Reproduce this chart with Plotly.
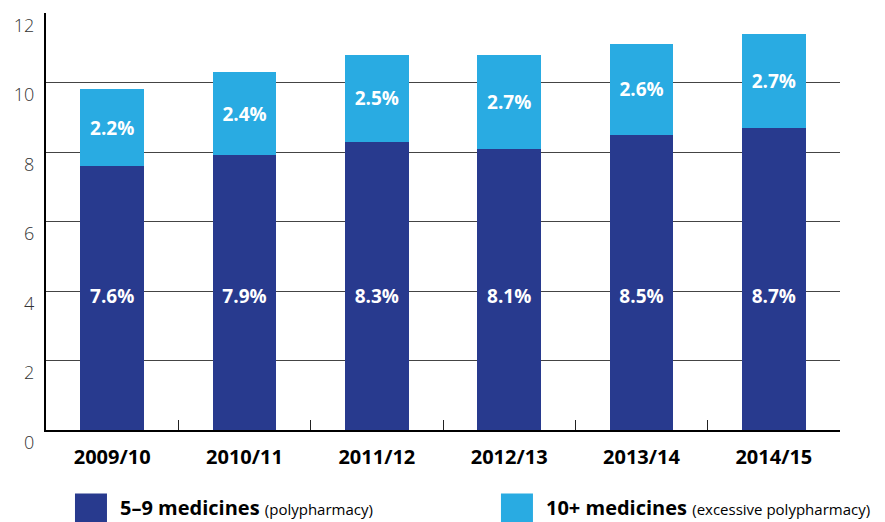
import plotly.graph_objects as go

categories = ["2009/10", "2010/11", "2011/12", "2012/13", "2013/14", "2014/15"]
poly_5_9 = [7.6, 7.9, 8.3, 8.1, 8.5, 8.7]
poly_10plus = [2.2, 2.4, 2.5, 2.7, 2.6, 2.7]
y_ticks = [0, 2, 4, 6, 8, 10, 12]

DARK = "#283a8e"
LIGHT = "#29abe2"
FONT = "Open Sans"

fig = go.Figure()
fig.add_trace(go.Bar(
    x=categories, y=poly_5_9, marker=dict(color=DARK, line=dict(width=0)),
    name="5–9 medicines", showlegend=False, hoverinfo="skip",
))
fig.add_trace(go.Bar(
    x=categories, y=poly_10plus, marker=dict(color=LIGHT, line=dict(width=0)),
    text=[f"{v:.1f}%" for v in poly_10plus], textposition="inside",
    insidetextanchor="middle",
    textfont=dict(family=FONT, size=19, color="white", weight="bold"),
    name="10+ medicines", showlegend=False, hoverinfo="skip",
))
label_y = min(poly_5_9) / 2
fig.add_trace(go.Scatter(
    x=categories, y=[label_y] * len(categories), mode="text",
    text=[f"{v:.1f}%" for v in poly_5_9],
    textfont=dict(family=FONT, size=19, color="white", weight="bold"),
    showlegend=False, hoverinfo="skip",
))

# page has an 8px body margin; margins compensate so the plot lands at 46..840 x 13..430
fig.update_layout(
    width=885, height=522,
    margin=dict(l=38, r=53, t=5, b=100),
    paper_bgcolor="white", plot_bgcolor="white",
    barmode="stack", bargap=0.52,
    showlegend=False,
    font=dict(family=FONT, color="#222"),
    xaxis=dict(
        type="category", showgrid=False, showline=True, linecolor="black", linewidth=2,
        ticks="inside", tickson="boundaries", ticklen=10, tickcolor="#222", tickwidth=1,
        tickfont=dict(family=FONT, size=20, color="black", weight="bold"),
        ticklabelstandoff=8, automargin=False,
    ),
    yaxis=dict(
        range=[0, 12], tickvals=y_ticks, showgrid=True, gridcolor="#444", gridwidth=1,
        showline=True, linecolor="black", linewidth=2, zeroline=False,
        ticks="", tickfont=dict(family=FONT, size=18, color="#333", weight=300),
        ticklabelposition="outside bottom",
        ticklabelstandoff=6, automargin=False, ticklabeloverflow="allow",
    ),
)

# manual legend
legend_items = [
    (DARK, "<b>5–9 medicines</b> <span style='font-size:15px'>(polypharmacy)</span>", 0.0365),
    (LIGHT, "<b>10+ medicines</b> <span style='font-size:15px'>(excessive polypharmacy)</span>", 0.573),
]
for color, label, x0 in legend_items:
    fig.add_shape(type="rect", xref="paper", yref="paper",
                  x0=x0, x1=x0 + 0.0403, y0=-0.225, y1=-0.152,
                  fillcolor=color, line=dict(width=0))
    fig.add_annotation(xref="paper", yref="paper", x=x0 + 0.0545, y=-0.185,
                       xanchor="left", yanchor="middle", showarrow=False,
                       text=label, font=dict(family=FONT, size=20, color="black"))

fig.write_html("out.html")
